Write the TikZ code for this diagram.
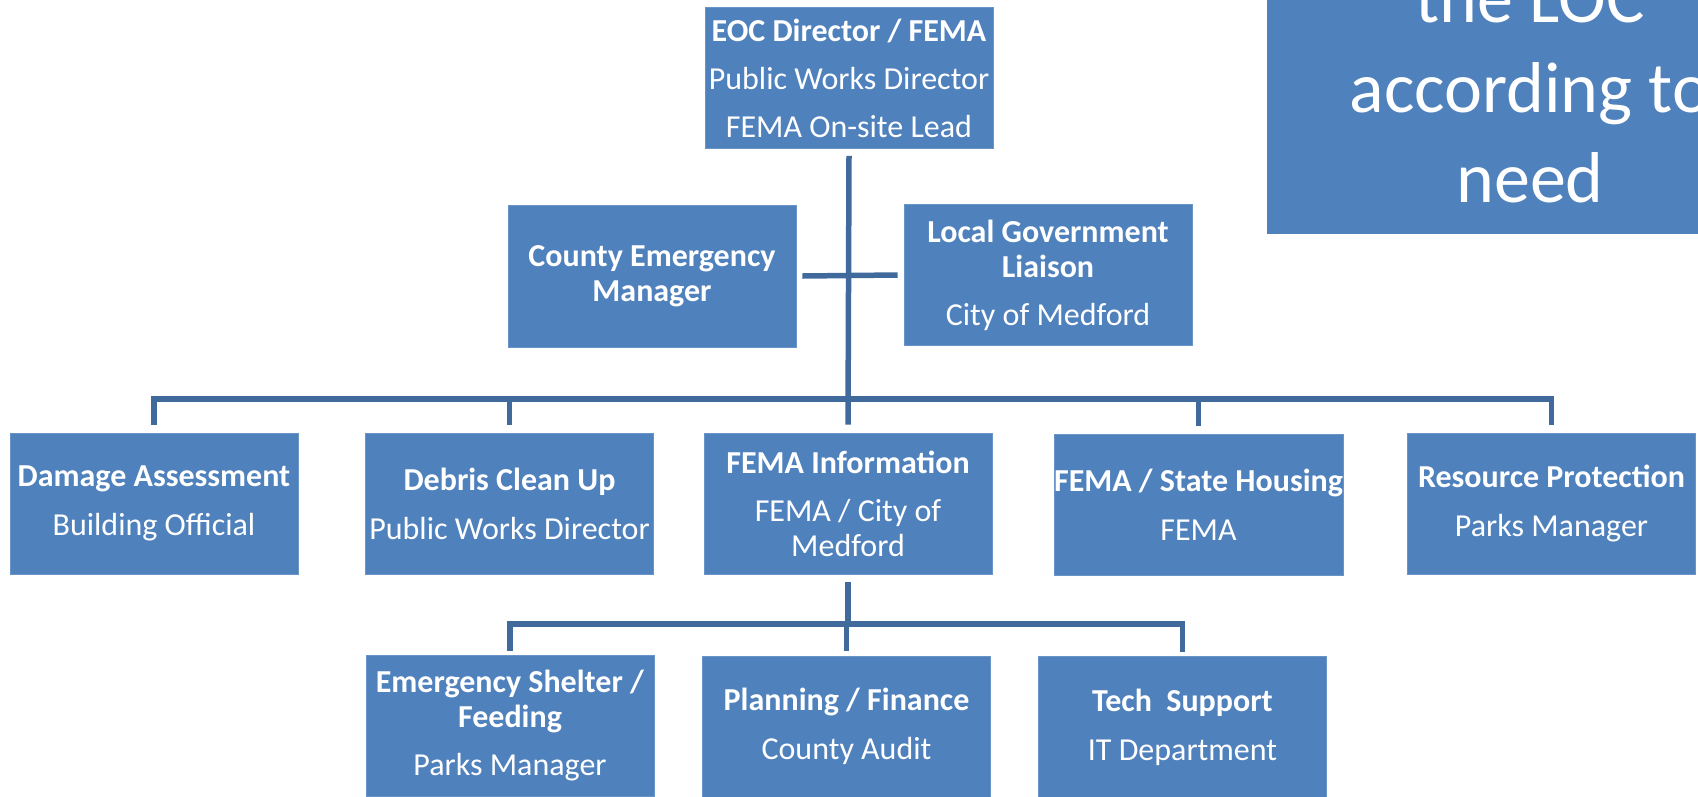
\documentclass[tikz,border=0pt]{standalone}
\usepackage{fontspec}
\setmainfont{Carlito}
\usetikzlibrary{calc}
\definecolor{boxblue}{HTML}{4F81BD}
\definecolor{lineblue}{HTML}{416A9C}
\begin{document}
\begin{tikzpicture}[x=1pt,y=-1pt,
  orgbox/.style={fill=boxblue, draw=boxblue!85!white, line width=0.8pt, text=white,
    minimum width=288pt, minimum height=141pt, inner sep=0pt, align=center,
    font=\fontsize{32}{35}\selectfont},
  conn/.style={draw=lineblue, line width=5.5pt, line cap=butt, line join=miter}]
\useasboundingbox (0,0) rectangle (1698,796);
\clip (0,0) rectangle (1698,796);
\fill[white] (0,0) rectangle (1698,796);

% note box at right (cut by the picture edge)
\node[fill=boxblue, draw=none, text=white, minimum width=526pt, minimum height=300pt,
  inner sep=0pt, align=center, anchor=south west]
  (note) at (1267,234) {};
\node[text=white, align=center, font=\fontsize{72}{90}\selectfont, anchor=base, inner sep=0pt]
  (notetext) at (1530,202) {the LOC\\according to\\need};

\node[orgbox] (top) at (849,78) {\textbf{EOC Director / FEMA}\\[13pt]Public Works Director\\[13pt]FEMA On-site Lead};
\node[orgbox, minimum height=142pt] (county) at (652,276) {\textbf{County Emergency}\\\textbf{Manager}};
\node[orgbox] (local) at (1048,275) {\textbf{Local Government}\\\textbf{Liaison}\\[13pt]City of Medford};

\node[orgbox] (damage) at (154,503.5) {\textbf{Damage Assessment}\\[14pt]Building Official};
\node[orgbox] (debris) at (509.5,503.5) {\textbf{Debris Clean Up}\\[14pt]Public Works Director};
\node[orgbox] (feminfo) at (848,503.5) {\textbf{FEMA Information}\\[13pt]FEMA / City of\\Medford};
\node[orgbox] (housing) at (1198.5,505) {\textbf{FEMA / State Housing}\\[14pt]FEMA};
\node[orgbox] (resource) at (1551.5,503.5) {\textbf{Resource Protection}\\[14pt]Parks Manager};

\node[orgbox] (shelter) at (510,725.5) {\textbf{Emergency Shelter /}\\\textbf{Feeding}\\[13pt]Parks Manager};
\node[orgbox] (planning) at (846.5,726.5) {\textbf{Planning / Finance}\\[14pt]County Audit};
\node[orgbox] (tech) at (1182.5,727) {\textbf{Tech\ \ Support}\\[14pt]IT Department};

\coordinate (bus) at (0,399);
\coordinate (lowbus) at (0,624);

% trunk
\draw[conn] ([yshift=-7pt]top.south) -- ([yshift=8pt]feminfo.north);
% side stub
\draw[conn] ([xshift=6pt]county.east) -- ([xshift=-6pt]local.west);
% upper bus
\draw[conn] ([yshift=8pt]damage.north) -- (damage.north |- bus) -- (resource.north |- bus) -- ([yshift=8pt]resource.north);
\draw[conn] ([yshift=8pt]debris.north) -- (debris.north |- bus);
\draw[conn] ([yshift=8pt]housing.north) -- (housing.north |- bus);
% lower bus
\draw[conn] ([yshift=-8pt]feminfo.south) -- (feminfo.south |- lowbus);
\draw[conn] ([yshift=4pt]shelter.north) -- (shelter.north |- lowbus) -- (tech.north |- lowbus) -- ([yshift=4pt]tech.north);
\draw[conn] ([yshift=5pt]planning.north) -- (planning.north |- lowbus);
\end{tikzpicture}
\end{document}
